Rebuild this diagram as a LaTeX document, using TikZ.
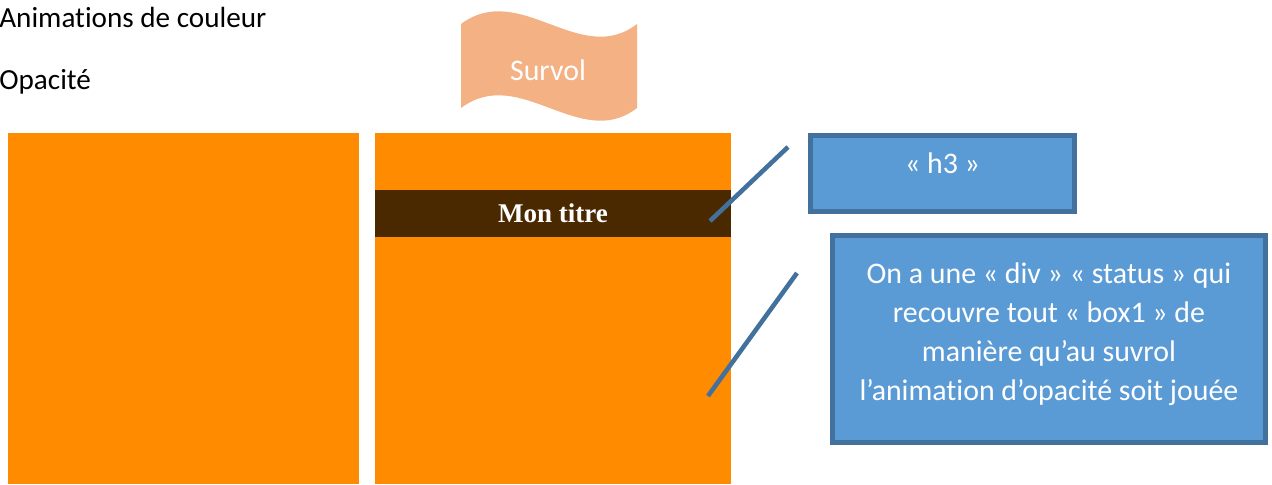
\documentclass[tikz,border=0pt]{standalone}
\usepackage{fontspec}
\setmainfont{Carlito}[Ligatures=NoCommon]
\newfontfamily\titlefont{Liberation Serif}
\usepackage{tikz}
\usetikzlibrary{calc}
\definecolor{boxorange}{HTML}{FF8C00}
\definecolor{bandbrown}{HTML}{4A2800}
\definecolor{survolfill}{HTML}{F4B183}
\definecolor{calloutfill}{HTML}{5B9BD5}
\definecolor{calloutline}{HTML}{41719C}

\begin{document}
\begin{tikzpicture}[x=0.02cm, y=-0.02cm,
  txt/.style={font=\fontsize{16.6}{22}\selectfont, inner sep=0pt},
  panel/.style={fill=boxorange, anchor=north west, inner sep=0pt, minimum height=7.02cm},
  callout/.style={draw=calloutline, line width=2.8pt, fill=calloutfill, text=white,
    font=\fontsize{17}{22.2}\selectfont, align=center, inner sep=0pt},
  pointer/.style={draw=calloutline, line width=2.6pt}]
  \useasboundingbox (0,0) rectangle (1272,484);

  \node[txt, anchor=base west] (anim) at (-1,27) {Animations de couleur};
  \node[txt, anchor=base west] (opac) at (-1,89) {Opacité};

  \fill[survolfill] (461,24) .. controls (520,-20) and (580,68) .. (637,24)
    -- (637,108) .. controls (580,152) and (520,64) .. (461,108) -- cycle;
  \node[txt, text=white, font=\fontsize{17}{22}\selectfont] (survol) at (548,70) {Survol};

  \node[panel, minimum width=7.02cm] (box0) at (8,133) {};
  \node[panel, minimum width=7.12cm] (box1) at (375,133) {};
  \node[fill=bandbrown, anchor=north west, inner sep=0pt, minimum width=7.12cm,
    minimum height=0.94cm] (h3) at (375,190) {};
  \node[text=white, font=\titlefont\bfseries\fontsize{15.4}{18}\selectfont, inner sep=0pt]
    (titre) at (553,213) {Mon titre};

  \node[callout, minimum width=5.28cm, minimum height=1.52cm,
    label={[text=white, font=\fontsize{17}{22}\selectfont, yshift=0.21cm]center:« h3 »}]
    (h3note) at (942.5,173.5) {};
  \node[callout, minimum width=8.66cm, minimum height=4.14cm, text depth=0.28cm]
    (statusnote) at (1049,339)
    {On a une « div » « status » qui\\recouvre tout « box1 » de\\manière qu’au suvrol\\l’animation d’opacité soit jouée};

  \coordinate (h3tip) at (710,221);
  \coordinate (h3end) at (788,147);
  \coordinate (statustip) at (708,396);
  \coordinate (statusend) at (797,273);
  \draw[pointer] (h3tip) -- (h3end);
  \draw[pointer] (statustip) -- (statusend);
\end{tikzpicture}
\end{document}
